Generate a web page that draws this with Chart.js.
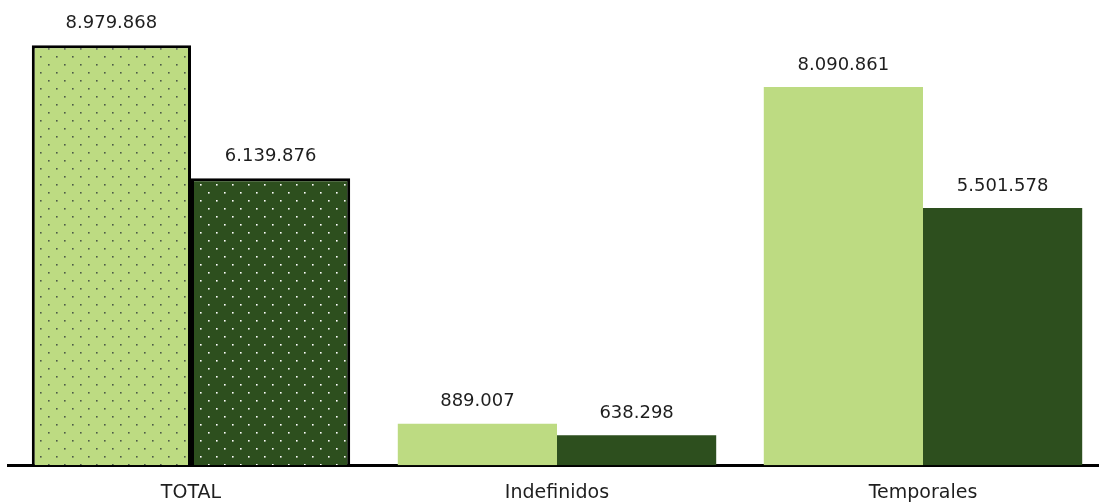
<!DOCTYPE html>
<html>
<head>
<meta charset="utf-8">
<script src="https://cdn.jsdelivr.net/npm/chart.js@4.4.0/dist/chart.umd.min.js"></script>
<style>
  html, body { margin: 0; padding: 0; background: #ffffff; overflow: hidden; }
  #wrap { width: 1106px; height: 502px; position: relative; }
</style>
</head>
<body>
<div id="wrap"><canvas id="contractChart"></canvas></div>
<script>
// chart data
const categories = ["TOTAL", "Indefinidos", "Temporales"];
const serieA = [8979868, 889007, 8090861];
const serieB = [6139876, 638298, 5501578];

const lightGreen = "#bddb82";
const darkGreen = "#2d4f1e";

// dotted fill used for the TOTAL bars
const makeDots = (bg, dot) => {
  const c = document.createElement("canvas");
  c.width = 16; c.height = 16;
  const g = c.getContext("2d");
  g.fillStyle = bg;
  g.fillRect(0, 0, 16, 16);
  g.fillStyle = dot;
  g.fillRect(0, 0, 1.6, 1.6);
  g.fillRect(8, 8, 1.6, 1.6);
  return g.createPattern(c, "repeat");
};

const fmt = (v) => String(v).replace(/\B(?=(\d{3})+(?!\d))/g, ".");

// labels on top of each bar
const valueLabels = {
  id: "valueLabels",
  afterDatasetsDraw(chart) {
    const ctx = chart.ctx;
    ctx.save();
    ctx.font = "18px 'DejaVu Sans'";
    ctx.fillStyle = "#1e1e1e";
    ctx.textAlign = "center";
    ctx.textBaseline = "middle";
    chart.data.datasets.forEach((ds, i) => {
      chart.getDatasetMeta(i).data.forEach((bar, j) => {
        ctx.fillText(fmt(ds.data[j]), bar.x, bar.y - 22);
      });
    });
    ctx.restore();
  }
};

const renderChart = () => {
  const ctx = document.getElementById("contractChart").getContext("2d");
  new Chart(ctx, {
    type: "bar",
    data: {
      labels: categories,
      datasets: [
        {
          label: "Serie 1",
          data: serieA,
          backgroundColor: [makeDots(lightGreen, "#4d5a48"), lightGreen, lightGreen],
          borderColor: "#000",
          borderWidth: [3, 0, 0],
          borderSkipped: "bottom"
        },
        {
          label: "Serie 2",
          data: serieB,
          backgroundColor: [makeDots(darkGreen, "#ffffff"), darkGreen, darkGreen],
          borderColor: "#000",
          borderWidth: [3, 0, 0],
          borderSkipped: "bottom"
        }
      ]
    },
    options: {
      responsive: true,
      maintainAspectRatio: false,
      animation: false,
      layout: { padding: { left: 8, right: 0, top: 0, bottom: -18 } },
      datasets: {
        bar: { categoryPercentage: 0.87, barPercentage: 1 }
      },
      plugins: {
        legend: { display: false },
        tooltip: { enabled: false }
      },
      scales: {
        x: {
          grid: { display: false, drawTicks: false },
          border: { display: true, color: "#000", width: 3 },
          ticks: { color: "#1e1e1e", font: { family: "DejaVu Sans", size: 19 }, padding: 16 }
        },
        y: {
          display: false,
          min: 0,
          max: 9950000
        }
      }
    },
    plugins: [valueLabels]
  });
};
window.onload = renderChart;
</script>
</body>
</html>
